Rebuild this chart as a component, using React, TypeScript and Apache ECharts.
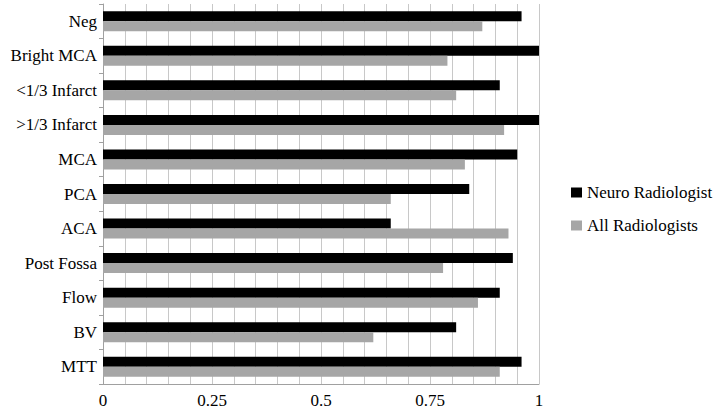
import React, { useEffect, useRef } from "react";
import * as echarts from "echarts";

const categories = [
  "Neg",
  "Bright MCA",
  "<1/3 Infarct",
  ">1/3 Infarct",
  "MCA",
  "PCA",
  "ACA",
  "Post Fossa",
  "Flow",
  "BV",
  "MTT",
];
const neuroRadiologist = [0.96, 1.0, 0.91, 1.0, 0.95, 0.84, 0.66, 0.94, 0.91, 0.81, 0.96];
const allRadiologists = [0.87, 0.79, 0.81, 0.92, 0.83, 0.66, 0.93, 0.78, 0.86, 0.62, 0.91];
const tickLabels = ["0", "0.25", "0.5", "0.75", "1"];

const FONT = "Liberation Serif";

export default function App() {
  const ref = useRef<HTMLDivElement>(null);
  useEffect(() => {
    if (!ref.current) return;
    const chart = echarts.init(ref.current, undefined, { renderer: "svg" });
    chart.setOption({
      animation: false,
      backgroundColor: "#ffffff",
      textStyle: { fontFamily: FONT },
      grid: { left: 103, right: 181, top: 4, bottom: 25, containLabel: false },
      legend: {
        orient: "vertical",
        left: 566,
        top: 179,
        itemWidth: 11,
        itemHeight: 10,
        itemGap: 16,
        icon: "rect",
        textStyle: { fontFamily: FONT, fontSize: 17, color: "#000" },
        data: ["Neuro Radiologist", "All Radiologists"],
      },
      xAxis: {
        type: "value",
        min: 0,
        max: 1,
        interval: 0.05,
        axisLine: { show: true, lineStyle: { color: "#a0a0a0", width: 1 } },
        axisTick: { show: false },
        splitLine: { show: true, lineStyle: { color: "#c8c8c8", width: 1 } },
        axisLabel: {
          color: "#000",
          fontFamily: FONT,
          fontSize: 17,
          margin: 8,
          formatter: (v: number) => {
            const k = Math.round(v * 100);
            return k % 25 === 0 ? tickLabels[k / 25] : "";
          },
        },
      },
      yAxis: {
        type: "category",
        data: categories,
        inverse: true,
        axisLine: { show: true, lineStyle: { color: "#a0a0a0", width: 1 } },
        axisTick: { show: true, length: 4, alignWithLabel: false, lineStyle: { color: "#a0a0a0" } },
        splitLine: { show: false },
        axisLabel: {
          color: "#000",
          fontSize: 17,
          margin: 6,
          formatter: (v: string) => "{a|" + v + "}",
          rich: { a: { fontFamily: FONT, fontSize: 17, color: "#000" } },
        },
      },
      series: [
        {
          name: "Neuro Radiologist",
          type: "bar",
          data: neuroRadiologist,
          barWidth: 10,
          barGap: "0%",
          itemStyle: { color: "#000000" },
        },
        {
          name: "All Radiologists",
          type: "bar",
          data: allRadiologists,
          barWidth: 10,
          barGap: "0%",
          itemStyle: { color: "#a6a6a6" },
        },
      ],
    });
    return () => chart.dispose();
  }, []);
  return (
    <div
      ref={ref}
      style={{ width: 720, height: 409, position: "absolute", left: 0, top: 0, fontFamily: FONT }}
    />
  );
}
